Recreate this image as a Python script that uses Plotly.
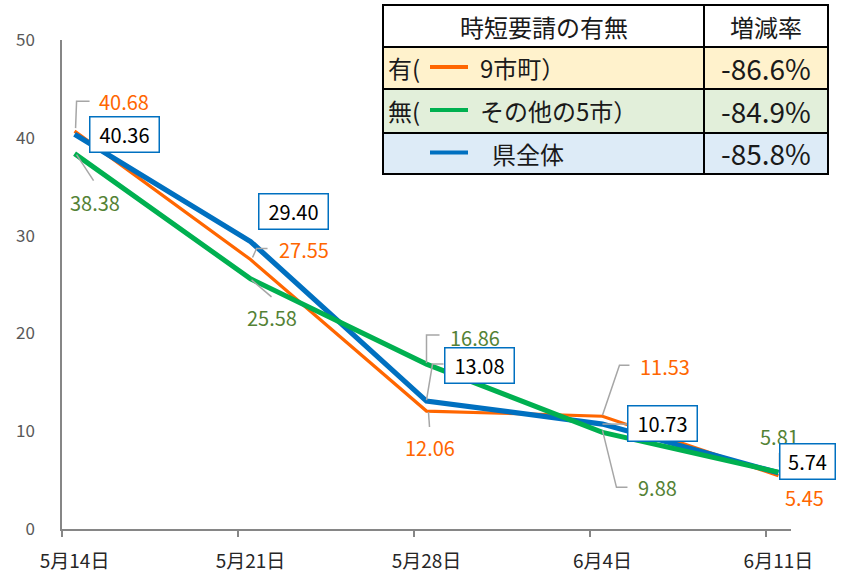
import pandas as pd
import plotly.graph_objects as go

# ---------------- data ----------------
dates = ["2021-05-14", "2021-05-21", "2021-05-28", "2021-06-04", "2021-06-11"]
tick_labels = ["5月14日", "5月21日", "5月28日", "6月4日", "6月11日"]
orange_vals = [40.68, 27.55, 12.06, 11.53, 5.45]   # 有（9市町）
green_vals = [38.38, 25.58, 16.86, 9.88, 5.81]     # 無（その他の5市）
blue_vals = [40.36, 29.40, 13.08, 10.73, 5.74]     # 県全体

table_header = ["時短要請の有無", "増減率"]
row_prefix = ["有(", "無(", ""]
row_names = ["9市町）", "その他の5市）", "県全体"]
row_rates = ["-86.6%", "-84.9%", "-85.8%"]

# ---------------- styles ----------------
ORANGE = "#FF6600"
GREEN = "#00B050"
BLUE = "#0070C0"
ORANGE_TXT = "#FF6600"
GREEN_TXT = "#548235"
LEADER = "#A6A6A6"
AXIS = "#868686"
FONT = "Noto Sans CJK JP"

W, H = 843, 577
ML, MR, MT, MB = 62, 52, 40, 48
PW, PH = W - ML - MR, H - MT - MB


def px(x):
    return (x - ML) / PW


def py(y):
    return (H - MB - y) / PH


start = pd.Timestamp(dates[0])
day_pos = [(pd.Timestamp(d) - start).days for d in dates]
xs = [d + 0.5 for d in day_pos]
x_max = day_pos[-1] + 1

# label offsets in pixels (dx right, dy down) relative to each point
orange_off = [(49, -30), (53, -10), (3, 36), (63, -50), (26, 22)]
green_off = [(20, 49), (21, 39), (48, -27), (55, 55), (1, -36)]
blue_off = [(50, 0), (43, -30), (53, -36), (60, -1), (29, -11)]
blue_box_w = [66, 66, 66, 66, 52]

# leader lines: pixel polylines relative to point (dx right, dy down)
orange_lead = [[(1, -3), (2, -30), (15, -30)],
               [(2, -2), (6, -11), (17, -11)],
               [(2, 1), (3, 16)],
               [(0, -1), (17, -51), (27, -51)],
               None]
green_lead = [[(2, 1), (19, 27)],
              [(1, 1), (21, 18)],
              [(0, -1), (0, -29), (13, -29)],
              [(0, -2), (14, 55), (25, 55)],
              None]
blue_lead = [None, None,
             [(0, -1), (6, -37), (17, -37)],
             [(0, 0), (25, 0)],
             [(1, -20), (1, -6)]]

fig = go.Figure()
for vals, col, wid in [(orange_vals, ORANGE, 3.2), (blue_vals, BLUE, 5.2), (green_vals, GREEN, 5)]:
    fig.add_trace(go.Scatter(x=xs, y=vals, mode="lines",
                             line=dict(color=col, width=wid),
                             hoverinfo="skip", showlegend=False))

annotations = []
shapes = []


def add_leaders(vals, leads):
    for xv, v, lead in zip(xs, vals, leads):
        if not lead:
            continue
        path = "M " + " L ".join(f"{dx},{-dy}" for dx, dy in lead)
        shapes.append(dict(type="path", xref="x", yref="y",
                           xsizemode="pixel", ysizemode="pixel",
                           xanchor=xv, yanchor=v, path=path,
                           line=dict(color=LEADER, width=1.5), layer="above"))


add_leaders(orange_vals, orange_lead)
add_leaders(green_vals, green_lead)
add_leaders(blue_vals, blue_lead)

for vals, offs, col in [(orange_vals, orange_off, ORANGE_TXT), (green_vals, green_off, GREEN_TXT)]:
    for xv, v, (dx, dy) in zip(xs, vals, offs):
        annotations.append(dict(x=xv, y=v, xref="x", yref="y", text=f"{v:.2f}",
                                showarrow=False, xshift=dx, yshift=-dy,
                                xanchor="center", yanchor="middle",
                                font=dict(family=FONT, size=20, color=col)))
for xv, v, (dx, dy), bw in zip(xs, blue_vals, blue_off, blue_box_w):
    annotations.append(dict(x=xv, y=v, xref="x", yref="y", text=f"{v:.2f}",
                            showarrow=False, xshift=dx, yshift=-dy,
                            xanchor="center", yanchor="middle",
                            width=bw, height=32, borderpad=1,
                            bordercolor=BLUE, borderwidth=1.5, bgcolor="white",
                            font=dict(family=FONT, size=20, color="#000000")))

# ---------------- table ----------------
tx0, txm, tx1 = 383, 704, 828
ty = [5, 47, 89, 133, 174]
fills = ["#FFFFFF", "#FFF2CC", "#E2EFDA", "#DDEBF7"]
for i in range(4):
    for (a, b) in [(tx0, txm), (txm, tx1)]:
        shapes.append(dict(type="rect", xref="paper", yref="paper",
                           x0=px(a), x1=px(b), y0=py(ty[i + 1]), y1=py(ty[i]),
                           fillcolor=fills[i], line=dict(color="#000000", width=2),
                           layer="above"))

line_cols = [ORANGE, GREEN, BLUE]
for i in range(3):
    yc = (ty[i + 1] + ty[i + 2]) / 2
    shapes.append(dict(type="line", xref="paper", yref="paper",
                       x0=px(430), x1=px(468), y0=py(yc - 1), y1=py(yc - 1),
                       line=dict(color=line_cols[i], width=4), layer="above"))
    if row_prefix[i]:
        annotations.append(dict(x=px(386), y=py(yc), xref="paper", yref="paper",
                                text=row_prefix[i], showarrow=False,
                                xanchor="left", yanchor="middle",
                                font=dict(family=FONT, size=24, color="#1a1a1a")))
    name_x = 478 if row_prefix[i] else 490
    annotations.append(dict(x=px(name_x), y=py(yc), xref="paper", yref="paper",
                            text=row_names[i], showarrow=False,
                            xanchor="left", yanchor="middle",
                            font=dict(family=FONT, size=24, color="#1a1a1a")))
    annotations.append(dict(x=px((txm + tx1) / 2), y=py(yc), xref="paper", yref="paper",
                            text=row_rates[i], showarrow=False,
                            xanchor="center", yanchor="middle",
                            font=dict(family=FONT, size=28, color="#1a1a1a")))

yc_h = (ty[0] + ty[1]) / 2
annotations.append(dict(x=px((tx0 + txm) / 2), y=py(yc_h), xref="paper", yref="paper",
                        text=table_header[0], showarrow=False,
                        xanchor="center", yanchor="middle",
                        font=dict(family=FONT, size=24, color="#1a1a1a")))
annotations.append(dict(x=px((txm + tx1) / 2), y=py(yc_h), xref="paper", yref="paper",
                        text=table_header[1], showarrow=False,
                        xanchor="center", yanchor="middle",
                        font=dict(family=FONT, size=24, color="#1a1a1a")))

fig.update_layout(
    width=W, height=H,
    margin=dict(l=ML, r=MR, t=MT, b=MB, autoexpand=False),
    paper_bgcolor="white", plot_bgcolor="white",
    annotations=annotations, shapes=shapes,
    xaxis=dict(range=[0, x_max], tickvals=xs, ticktext=tick_labels,
               ticks="", showgrid=False, zeroline=False, automargin=False,
               showline=True, linecolor=AXIS, linewidth=1.5,
               ticklabelstandoff=14,
               tickfont=dict(family=FONT, size=19, color="#262626"),
               minor=dict(tickvals=day_pos, ticks="outside", ticklen=6,
                          tickcolor=AXIS, tickwidth=1.5, showgrid=False)),
    yaxis=dict(range=[0, 50], dtick=10, ticks="", showgrid=False, zeroline=False,
               automargin=False,
               showline=True, linecolor=AXIS, linewidth=1.5,
               ticklabelstandoff=22,
               tickfont=dict(family=FONT, size=17, color="#595959")),
)

fig.write_html("out.html", config={"displayModeBar": False},
               post_script="document.body.style.margin='0px';document.body.style.overflow='hidden';")
